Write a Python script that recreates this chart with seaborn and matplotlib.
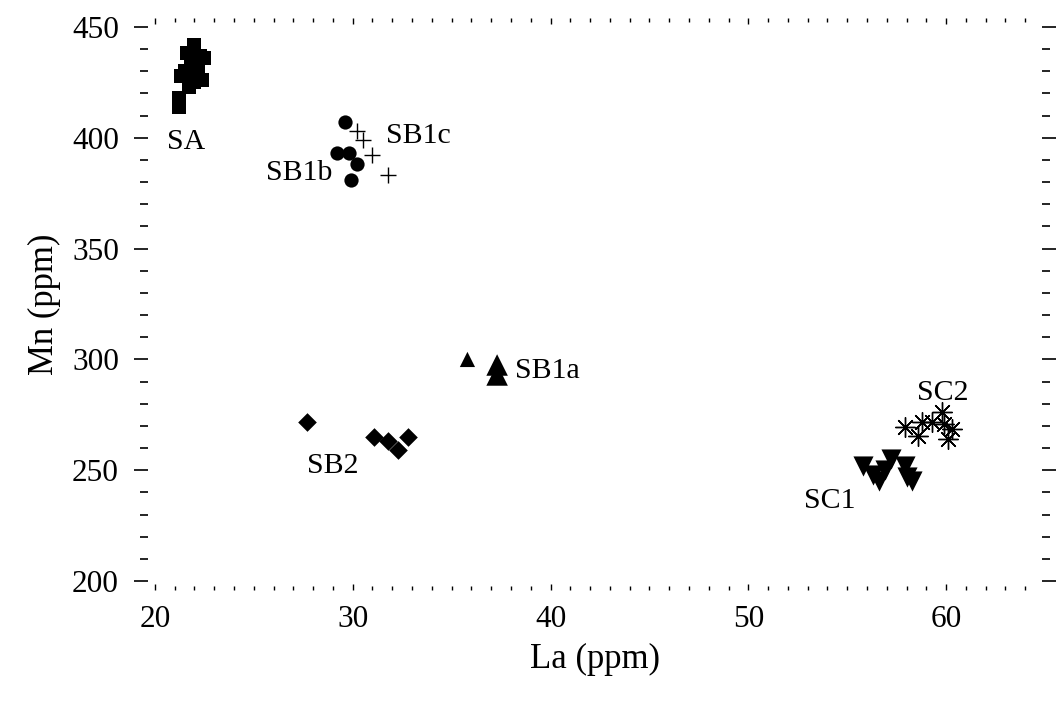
import pandas as pd
import numpy as np
import matplotlib
matplotlib.use("Agg")
import matplotlib.pyplot as plt
from matplotlib.ticker import MultipleLocator
import seaborn as sns

# La / Mn values (ppm) per group
sa_la = [22.0, 22.3, 21.8, 21.5, 22.5, 21.3, 22.2, 22.4, 21.7, 21.2, 21.2, 22.0, 21.8, 21.6]
sa_mn = [442, 437, 435, 430, 436, 428, 430, 426, 423, 418, 414, 425, 432, 438]

sb1b_la = [29.6, 29.2, 29.8, 30.2, 29.9]
sb1b_mn = [407, 393, 393, 388, 381]

sb1c_la = [30.2, 30.5, 31.0, 31.8]
sb1c_mn = [403, 399, 392, 383]

sb1a_la = [35.8, 37.3, 37.3]
sb1a_mn = [300, 297.5, 293]

sb2_la = [27.7, 31.1, 31.8, 32.3, 32.8]
sb2_mn = [272, 265, 263, 259, 265]

sc1_la = [55.8, 56.3, 56.6, 57.2, 57.9, 58.0, 58.3, 56.9]
sc1_mn = [252, 248, 245, 255, 252, 247, 245, 250]

sc2_la = [57.9, 58.6, 58.8, 59.8, 59.3, 59.9, 60.3, 60.1]
sc2_mn = [269.5, 265.5, 272, 276.5, 272, 271, 268.5, 264]

# group -> (data, marker, size, label position, alignment)
groups = {
    "SA": (sa_la, sa_mn, "s", 100, (21.6, 398), "center"),
    "SB1b": (sb1b_la, sb1b_mn, "o", 105, (27.3, 384), "center"),
    "SB1c": (sb1c_la, sb1c_mn, "+", 130, (31.7, 401), "left"),
    "SB1a": (sb1a_la, sb1a_mn, "^", [120, 240, 240], (38.2, 295), "left"),
    "SB2": (sb2_la, sb2_mn, "D", 90, (29.0, 252), "center"),
    "SC1": (sc1_la, sc1_mn, "v", 210, (54.1, 236), "center"),
    "SC2": (sc2_la, sc2_mn, (8, 2, 0), 200, (59.85, 285), "center"),
}

sns.set_style("white")
plt.rcParams["font.family"] = ["Liberation Serif", "DejaVu Serif"]
plt.rcParams["text.color"] = "black"
plt.rcParams["axes.labelcolor"] = "black"
plt.rcParams["xtick.color"] = "black"
plt.rcParams["ytick.color"] = "black"

fig = plt.figure(figsize=(10.61, 7.01), dpi=100)
ax = fig.add_axes([0.1395, 0.1583, 0.8426, 0.816])

for name, (la, mn, marker, size, pos, ha) in groups.items():
    df = pd.DataFrame({"La": la, "Mn": mn})
    if marker == "+" or isinstance(marker, tuple):
        sns.scatterplot(data=df, x="La", y="Mn", marker=marker, s=size,
                        color="black", linewidth=1.0, ax=ax)
    else:
        sns.scatterplot(data=df, x="La", y="Mn", marker=marker, s=size,
                        color="black", edgecolor="black", linewidth=0, ax=ax)
    ax.text(pos[0], pos[1], name, fontsize=21.5, ha=ha, va="center", color="black")

ax.set_xlim(19.65, 64.85)
ax.set_ylim(196, 454)

ax.xaxis.set_major_locator(MultipleLocator(10))
ax.xaxis.set_minor_locator(MultipleLocator(1))
ax.yaxis.set_major_locator(MultipleLocator(50))
ax.yaxis.set_minor_locator(MultipleLocator(10))

for s in ax.spines.values():
    s.set_visible(False)

ax.tick_params(axis="y", which="both", left=True, right=True, direction="out",
               labelsize=22.5, pad=11)
ax.tick_params(axis="y", which="major", length=10, width=1.2)
ax.tick_params(axis="y", which="minor", length=6, width=1.2)
ax.tick_params(axis="x", which="both", bottom=True, top=True, direction="in",
               labelsize=22.5, pad=11)
ax.tick_params(axis="x", which="major", length=4, width=1)
ax.tick_params(axis="x", which="minor", length=3, width=1)

ax.set_xlabel("La (ppm)", fontsize=25, labelpad=6)
ax.set_ylabel("Mn (ppm)", fontsize=25, labelpad=8)

fig.savefig("out.png", dpi=100)
